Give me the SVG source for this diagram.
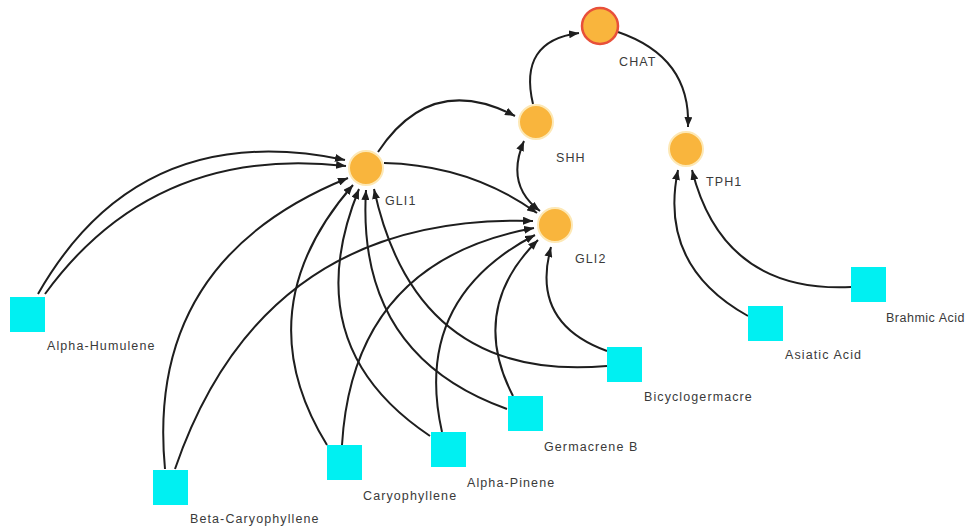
<svg xmlns="http://www.w3.org/2000/svg" width="972" height="531" viewBox="0 0 972 531">
<style>
.edge{fill:none;stroke:#1e1e1e;stroke-width:2;marker-end:url(#arr)}
.gene{fill:#F9B53D;stroke:#FDE8B5;stroke-width:2}
.cmp{fill:#00F0F2}
.lbl{font-family:"Liberation Sans",Arial,sans-serif;font-size:12.5px;letter-spacing:1.1px;fill:#3a3a3a}
</style>
<defs>
<marker id="arr" markerUnits="userSpaceOnUse" markerWidth="10" markerHeight="8" refX="10" refY="4" orient="auto-start-reverse">
<path d="M0,0 L10,4 L0,8 z" fill="#1e1e1e"/>
</marker>
</defs>
<rect width="972" height="531" fill="#fff"/>
<g id="connectors">
<path class="edge" d="M 38,294 Q 139,117 345,160"/>
<path class="edge" d="M 45,294 Q 154,144 346,166"/>
<path class="edge" d="M 165,469 Q 145,260 348,178"/>
<path class="edge" d="M 175,469 Q 263,213 533,221"/>
<path class="edge" d="M 327,445 Q 244,310 353,185"/>
<path class="edge" d="M 342,445 Q 353,261 534,228"/>
<path class="edge" d="M 430,436 Q 295,346 359,189"/>
<path class="edge" d="M 442,432 Q 412,299 535,235"/>
<path class="edge" d="M 507,409 Q 356,355 366,190"/>
<path class="edge" d="M 513,396 Q 468,309 538,240"/>
<path class="edge" d="M 607,366 Q 416,383 374,189"/>
<path class="edge" d="M 607,351 Q 530,323 551,247"/>
<path class="edge" d="M 748,316 Q 658,266 678,170"/>
<path class="edge" d="M 851,287 Q 723,293 692,170"/>
<path class="edge" d="M 378,152 Q 431,72 515,116"/>
<path class="edge" d="M 533,104 Q 518,41 579,33"/>
<path class="edge" d="M 618,32 Q 691,57 688,127"/>
<path class="edge" d="M 384,163 Q 470,165 537,213"/>
<path class="edge" style="marker-start:url(#arr)" d="M 524,141 Q 505,185 540,211"/>
</g>
<g id="CHAT"><circle cx="600" cy="26" r="18" fill="#F9B53D" stroke="#E8503A" stroke-width="2.5"/><text class="lbl" x="619" y="66">CHAT</text></g>
<g id="SHH"><circle class="gene" cx="536" cy="122" r="17"/><text class="lbl" x="556" y="162">SHH</text></g>
<g id="GLI1"><circle class="gene" cx="366" cy="168" r="17"/><text class="lbl" x="385" y="205">GLI1</text></g>
<g id="GLI2"><circle class="gene" cx="555" cy="225" r="17"/><text class="lbl" x="575" y="263">GLI2</text></g>
<g id="TPH1"><circle class="gene" cx="686" cy="149" r="17"/><text class="lbl" x="706" y="186">TPH1</text></g>
<g id="Alpha-Humulene"><rect class="cmp" x="10" y="297" width="35" height="35"/><text class="lbl" x="47" y="350">Alpha-Humulene</text></g>
<g id="Beta-Caryophyllene"><rect class="cmp" x="153" y="470" width="35" height="35"/><text class="lbl" x="190" y="523">Beta-Caryophyllene</text></g>
<g id="Caryophyllene"><rect class="cmp" x="327" y="445" width="35" height="35"/><text class="lbl" x="363" y="500">Caryophyllene</text></g>
<g id="Alpha-Pinene"><rect class="cmp" x="431" y="432" width="35" height="35"/><text class="lbl" x="467" y="487">Alpha-Pinene</text></g>
<g id="Germacrene-B"><rect class="cmp" x="508" y="396" width="35" height="35"/><text class="lbl" x="544" y="451">Germacrene B</text></g>
<g id="Bicyclogermacre"><rect class="cmp" x="607" y="347" width="35" height="35"/><text class="lbl" x="644" y="401">Bicyclogermacre</text></g>
<g id="Asiatic-Acid"><rect class="cmp" x="748" y="306" width="35" height="35"/><text class="lbl" x="785" y="359">Asiatic Acid</text></g>
<g id="Brahmic-Acid"><rect class="cmp" x="851" y="267" width="35" height="35"/><text class="lbl" x="886" y="322" style="letter-spacing:0.5px">Brahmic Acid</text></g>
</svg>
